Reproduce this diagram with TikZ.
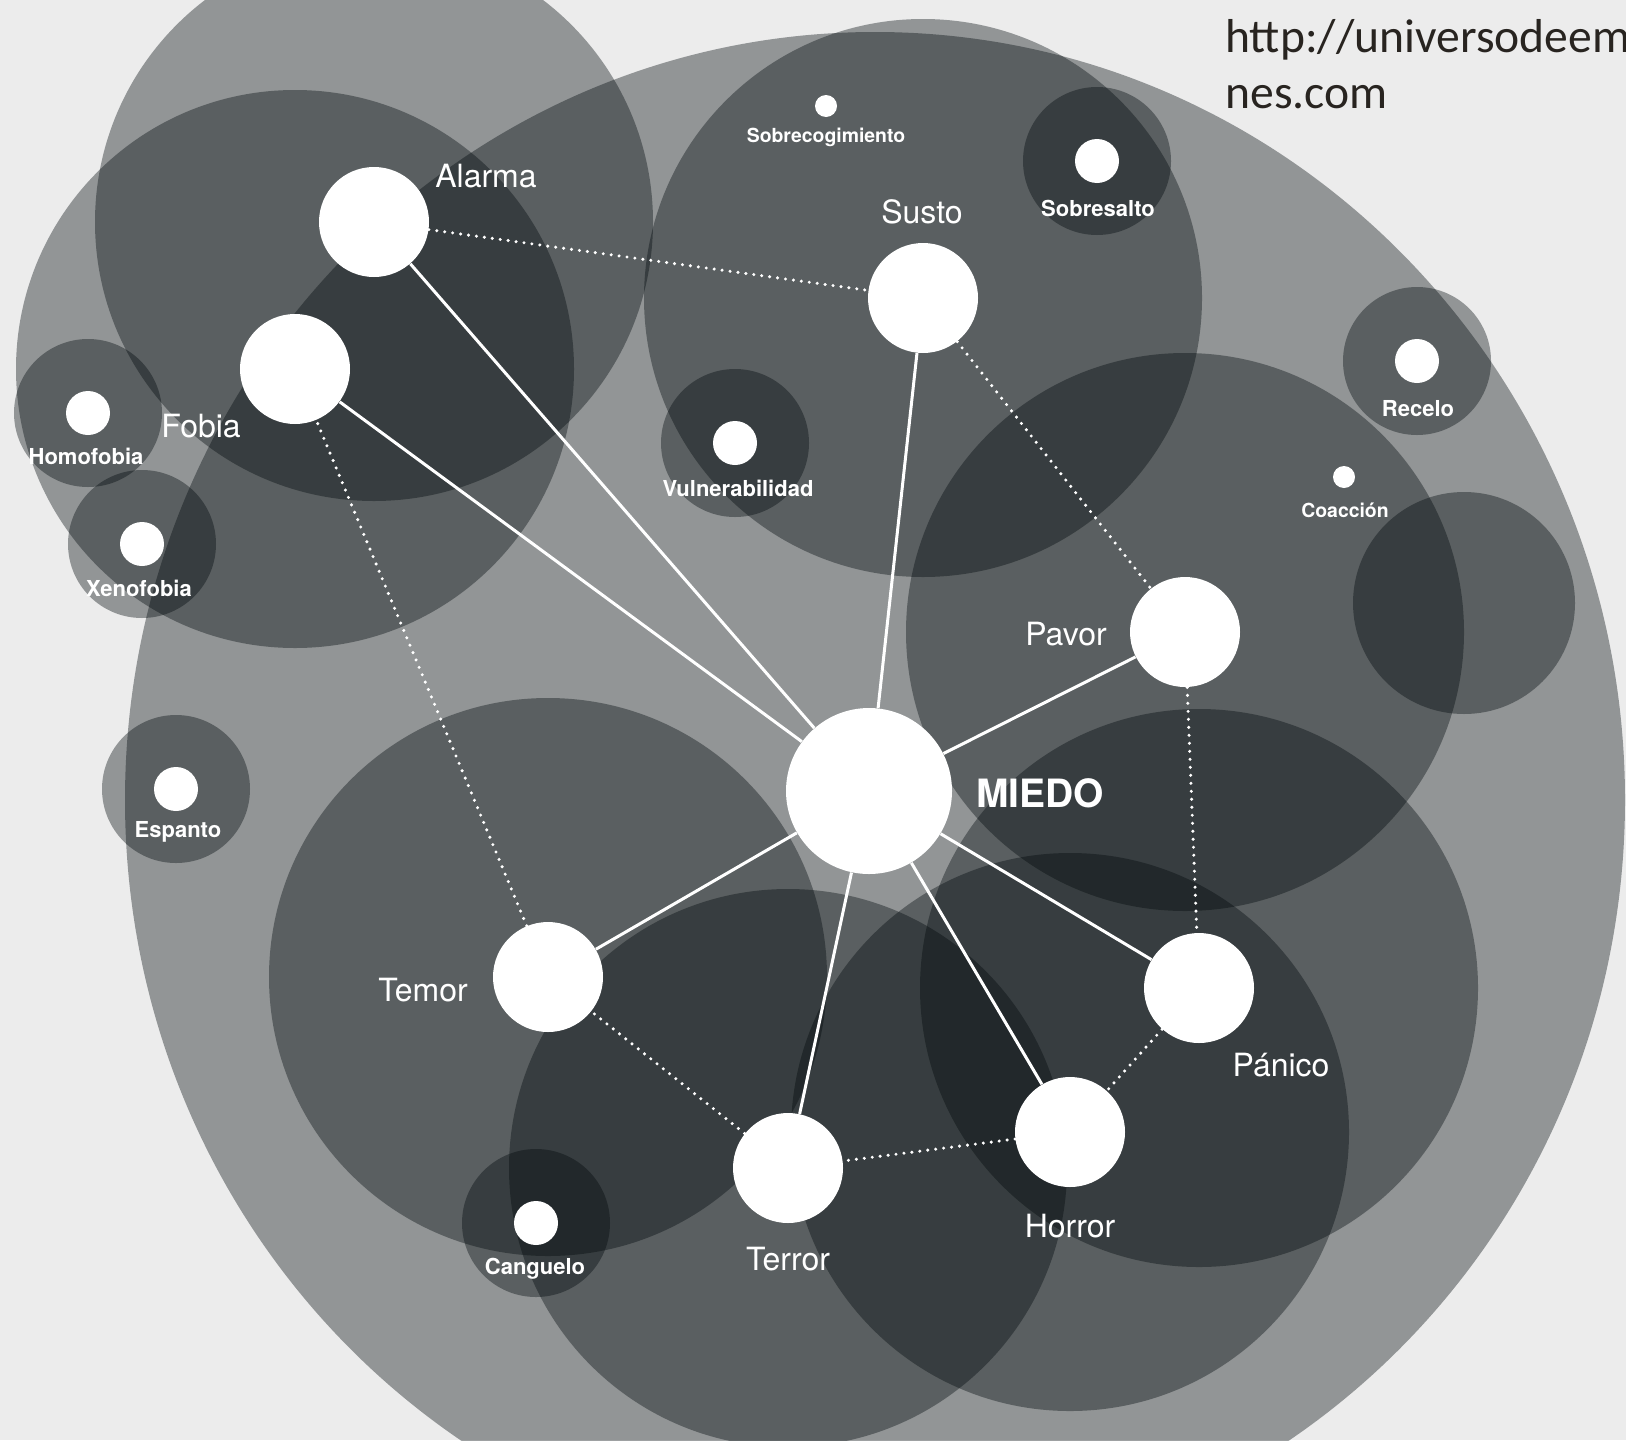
\documentclass[tikz,border=0pt]{standalone}
\usepackage{fontspec}
\newfontfamily\grotesk{TeX Gyre Heros}
\newfontfamily\webfont{Carlito}
\usetikzlibrary{backgrounds}
\definecolor{paper}{RGB}{236,236,236}
\definecolor{smoke}{RGB}{0,8,11}
\definecolor{ink}{RGB}{40,36,32}

\begin{document}
\begin{tikzpicture}[x=0.5pt,y=-0.5pt,
    halo/.style={fill=smoke,fill opacity=0.38},
    hubnode/.style={circle,fill=white,inner sep=0pt,minimum size=83pt},
    emonode/.style={circle,fill=white,inner sep=0pt,minimum size=55pt},
    subnode/.style={circle,fill=white,inner sep=0pt,minimum size=22pt},
    dotnode/.style={circle,fill=white,inner sep=0pt,minimum size=11pt},
    emolabel/.style={text=white,inner sep=0pt,anchor=base,font=\grotesk\fontsize{16}{19}\selectfont},
    sublabel/.style={text=white,inner sep=0pt,anchor=base,font=\grotesk\bfseries\fontsize{11}{13}\selectfont},
    dotlabel/.style={text=white,inner sep=0pt,anchor=base,font=\grotesk\bfseries\fontsize{9.7}{12}\selectfont},
    weblabel/.style={text=ink,inner sep=0pt,anchor=base west,font=\webfont\fontsize{23.8}{28}\selectfont},
    link/.style={white,line width=1.5pt},
    loose/.style={white,line width=1.7pt,line cap=round,dash pattern=on 0pt off 4pt},
]
\useasboundingbox (0,0) rectangle (1626,1440);
\clip (0,0) rectangle (1626,1440);

    \node [hubnode] (miedo) at (869,791) {};
    \path (miedo) ++(-495,-569) node [emonode] (alarma) {};
    \path (miedo) ++(-574,-422) node [emonode] (fobia) {};
    \path (miedo) ++(54,-493) node [emonode] (susto) {};
    \path (miedo) ++(316,-159) node [emonode] (pavor) {};
    \path (miedo) ++(330,197) node [emonode] (panico) {};
    \path (miedo) ++(201,341) node [emonode] (horror) {};
    \path (miedo) ++(-81,377) node [emonode] (terror) {};
    \path (miedo) ++(-321,186) node [emonode] (temor) {};

    \node [subnode] (homofobia) at (88,413) {};
    \node [subnode] (xenofobia) at (142,544) {};
    \node [subnode] (sobresalto) at (1097,161) {};
    \node [subnode] (vulnerabilidad) at (735,443) {};
    \node [subnode] (recelo) at (1417,361) {};
    \node [subnode] (espanto) at (176,789) {};
    \node [subnode] (canguelo) at (536,1223) {};
    \node [dotnode] (sobrecogimiento) at (826,106) {};
    \node [dotnode] (coaccion) at (1344,477) {};

    \begin{scope}[on background layer]
    \clip (0,0) rectangle (1626,1440);
    \fill [paper] (0,0) rectangle (1626,1440);
    \fill [halo] (miedo) ++(6,9) ellipse [x radius=750,y radius=768];
    \fill [halo] (alarma) circle (279);
    \fill [halo] (fobia) circle (279);
    \fill [halo] (susto) circle (279);
    \fill [halo] (pavor) circle (279);
    \fill [halo] (panico) circle (279);
    \fill [halo] (horror) circle (279);
    \fill [halo] (terror) circle (279);
    \fill [halo] (temor) circle (279);
    \fill [halo] (homofobia) circle (74);
    \fill [halo] (xenofobia) circle (74);
    \fill [halo] (sobresalto) circle (74);
    \fill [halo] (vulnerabilidad) circle (74);
    \fill [halo] (recelo) circle (74);
    \fill [halo] (espanto) circle (74);
    \fill [halo] (canguelo) circle (74);
    \fill [halo] (coaccion) ++(120,126) circle (111);
    \end{scope}

    \draw [link] (miedo) -- (alarma);
    \draw [link] (miedo) -- (fobia);
    \draw [link] (miedo) -- (susto);
    \draw [link] (miedo) -- (pavor);
    \draw [link] (miedo) -- (panico);
    \draw [link] (miedo) -- (horror);
    \draw [link] (miedo) -- (terror);
    \draw [link] (miedo) -- (temor);

    \draw [loose] (alarma) -- (susto);
    \draw [loose] (susto) -- (pavor);
    \draw [loose] (pavor) -- (panico);
    \draw [loose] (panico) -- (horror);
    \draw [loose] (horror) -- (terror);
    \draw [loose] (terror) -- (temor);
    \draw [loose] (temor) -- (fobia);

    \path (miedo) ++(171,16) node [emolabel,font=\grotesk\bfseries\fontsize{19.5}{23}\selectfont] (miedoL) {MIEDO};
    \path (alarma) ++(112,-35) node [emolabel] (alarmaL) {Alarma};
    \path (fobia) ++(-94,68) node [emolabel] (fobiaL) {Fobia};
    \path (susto) ++(-1,-75) node [emolabel] (sustoL) {Susto};
    \path (pavor) ++(-119,13) node [emolabel] (pavorL) {Pavor};
    \path (panico) ++(82,88) node [emolabel] (panicoL) {Pánico};
    \path (horror) ++(0,105) node [emolabel] (horrorL) {Horror};
    \path (terror) ++(0,102) node [emolabel] (terrorL) {Terror};
    \path (temor) ++(-125,24) node [emolabel] (temorL) {Temor};

    \path (homofobia) ++(-2,51) node [sublabel] (homofobiaL) {Homofobia};
    \path (xenofobia) ++(-3,52) node [sublabel] (xenofobiaL) {Xenofobia};
    \path (sobresalto) ++(1,55) node [sublabel] (sobresaltoL) {Sobresalto};
    \path (vulnerabilidad) ++(3,53) node [sublabel] (vulnerabilidadL) {Vulnerabilidad};
    \path (recelo) ++(1,55) node [sublabel] (receloL) {Recelo};
    \path (espanto) ++(2,48) node [sublabel] (espantoL) {Espanto};
    \path (canguelo) ++(-1,51) node [sublabel] (cangueloL) {Canguelo};
    \path (sobrecogimiento) ++(0,36) node [dotlabel] (sobrecogimientoL) {Sobrecogimiento};
    \path (coaccion) ++(1,40) node [dotlabel] (coaccionL) {Coacción};

    \node [weblabel] (url1) at (1225,52) {http://universodeem};
    \path (url1.base west) ++(0,56) node [weblabel] (url2) {nes.com};

\end{tikzpicture}
\end{document}
